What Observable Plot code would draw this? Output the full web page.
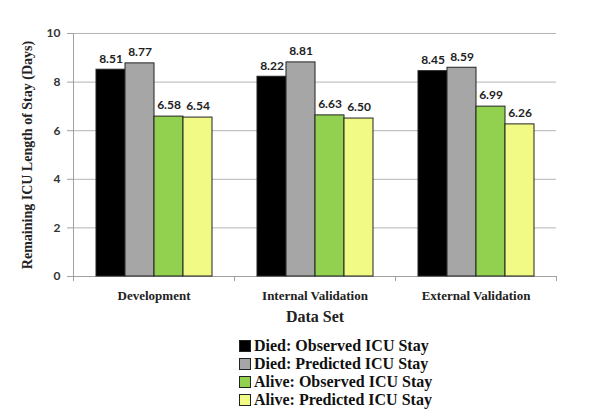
<!DOCTYPE html>
<html>
<head>
<meta charset="utf-8">
<script src="https://cdn.jsdelivr.net/npm/d3@7"></script>
<script src="https://cdn.jsdelivr.net/npm/@observablehq/plot@0.6"></script>
<style>
  html, body { margin: 0; padding: 0; background: #fff; }
  #chart { width: 600px; }
  #legend { margin-left: 239px; margin-top: 7px; font: bold 16px "Liberation Serif", serif; color: #111; }
  #legend .row { height: 18px; line-height: 18px; display: flex; align-items: center; }
  #legend .sw { width: 12px; height: 12px; border: 1px solid #222; margin-right: 3px; box-sizing: border-box; }
</style>
</head>
<body>
<div id="chart"></div>
<div id="legend"></div>
<script>
const groups = ["Development", "Internal Validation", "External Validation"];
const series = ["Died: Observed ICU Stay", "Died: Predicted ICU Stay", "Alive: Observed ICU Stay", "Alive: Predicted ICU Stay"];
const colors = ["#000000", "#a6a6a6", "#92d050", "#f2fa86"];
const devValues = [8.51, 8.77, 6.58, 6.54];
const intValues = [8.22, 8.81, 6.63, 6.50];
const extValues = [8.45, 8.59, 6.99, 6.26];
const yTicks = [0, 2, 4, 6, 8, 10];

const groupValues = [devValues, intValues, extValues];
const data = [];
groups.forEach((g, gi) => series.forEach((s, si) => data.push({group: g, series: s, value: groupValues[gi][si]})));

const sansFont = "Lato, 'Liberation Sans', sans-serif";
const serifFont = "'Liberation Serif', serif";

function boundaryTicks(index, scales, values, dimensions) {
  const x = scales.x, y = scales.y;
  const r = x.range();
  const y0 = y(0);
  const g = d3.create("svg:g").attr("stroke", "#a0a0a0").attr("stroke-width", 1);
  r.forEach(px => g.append("line").attr("x1", px + 0.5).attr("x2", px + 0.5).attr("y1", y0).attr("y2", y0 + 5));
  return g.node();
}
function leftAxisLine(index, scales, values, dimensions) {
  const x = scales.x, y = scales.y;
  const px = x.range()[0] + 0.5;
  return d3.create("svg:line").attr("x1", px).attr("x2", px).attr("y1", y(10)).attr("y2", y(0))
    .attr("stroke", "#a0a0a0").node();
}

const plot = Plot.plot({
  width: 600,
  height: 330,
  marginLeft: 72,
  marginRight: 43,
  marginTop: 33,
  marginBottom: 54,
  style: {fontFamily: sansFont, background: "#fff"},
  fx: {domain: groups, padding: 0},
  x: {domain: series, paddingInner: 0, paddingOuter: 0.74, axis: null},
  y: {domain: [0, 10]},
  color: {domain: series, range: colors},
  marks: [
    Plot.ruleY(yTicks.filter(d => d > 0), {stroke: "#b4b4b4"}),
    Plot.ruleY([0], {stroke: "#a0a0a0"}),
    Plot.axisY({ticks: yTicks, tickSize: 6, tickPadding: 7, stroke: "#a0a0a0",
      fontSize: 12, fontWeight: "bold", fill: "#333",
      label: "Remaining ICU Length of Stay (Days)", labelAnchor: "center", labelOffset: 51, labelArrow: "none"}),
    Plot.axisFx({anchor: "bottom", tickSize: 0, tickPadding: 14, fontSize: 13, fontWeight: "bold",
      fontFamily: serifFont, fill: "#222", label: "Data Set", labelAnchor: "center", labelOffset: 45, labelArrow: "none"}),
    Plot.barY(data, {fx: "group", x: "series", y: "value", fill: "series", stroke: "#222", strokeWidth: 1}),
    Plot.text(data, {fx: "group", x: "series", y: "value", text: d => d.value.toFixed(2), dy: -11,
      fontSize: 12, fontWeight: "bold", fill: "#222"}),
    Plot.ruleY([0], {render: boundaryTicks}),
    Plot.ruleY([0], {render: leftAxisLine, facetAnchor: "left"})
  ]
});
document.getElementById("chart").appendChild(plot);

// style axis label texts
d3.select(plot).selectAll("[aria-label='fx-axis label'] text, [aria-label='y-axis label'] text")
  .attr("font-family", serifFont).attr("font-weight", "bold").attr("fill", "#222");
d3.select(plot).selectAll("[aria-label='fx-axis label'] text").attr("font-size", 16);
d3.select(plot).selectAll("[aria-label='y-axis label'] text").attr("font-size", 14);

const legend = d3.select("#legend");
series.forEach((s, i) => {
  const row = legend.append("div").attr("class", "row");
  row.append("div").attr("class", "sw").style("background", colors[i]);
  row.append("span").text(s);
});
</script>
</body>
</html>
